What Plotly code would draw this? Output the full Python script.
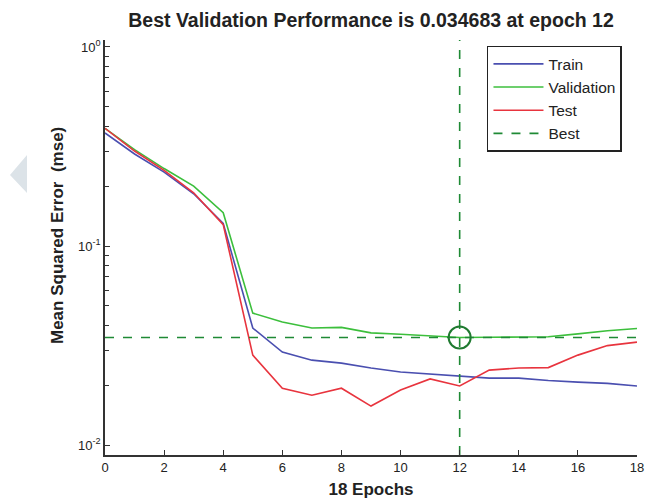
import plotly.graph_objects as go

epochs = list(range(19))
train = [0.37, 0.29, 0.235, 0.183, 0.13, 0.0387, 0.0293, 0.0267, 0.0258, 0.0244,
         0.0233, 0.0227, 0.0221, 0.0217, 0.0217, 0.0211, 0.0207, 0.0204, 0.0198]
validation = [0.39, 0.305, 0.245, 0.20, 0.147, 0.046, 0.0415, 0.0387, 0.039, 0.0366,
              0.0360, 0.0352, 0.034683, 0.0348, 0.0348, 0.035, 0.0362, 0.0375, 0.0385]
test = [0.39, 0.30, 0.24, 0.185, 0.128, 0.0283, 0.0193, 0.0178, 0.0193, 0.0157,
        0.0189, 0.0215, 0.0198, 0.0238, 0.0244, 0.0245, 0.0283, 0.0316, 0.0329]
best_epoch = 12
best_value = 0.034683
x_ticks = list(range(0, 19, 2))
y_ticks = [0.01, 0.1, 1]
y_tick_text = ["10<sup>-2</sup>", "10<sup>-1</sup>", "10<sup>0</sup>"]
y_minor = [m * 10 ** e for e in (-2, -1) for m in range(2, 10)]

font = "Liberation Sans, Arial, Helvetica, sans-serif"
y_lo, y_hi = -2.05, 0.035

fig = go.Figure()
fig.add_trace(go.Scatter(x=epochs, y=train, mode="lines", name="Train",
                         line=dict(color="#4a4fb0", width=1.6)))
fig.add_trace(go.Scatter(x=epochs, y=validation, mode="lines", name="Validation",
                         line=dict(color="#3cbf3c", width=1.6)))
fig.add_trace(go.Scatter(x=epochs, y=test, mode="lines", name="Test",
                         line=dict(color="#e8343e", width=1.6)))
fig.add_trace(go.Scatter(x=[0, 18], y=[best_value, best_value], mode="lines", name="Best",
                         line=dict(color="#1f8a35", width=1.6, dash="dash")))
fig.add_trace(go.Scatter(x=[best_epoch, best_epoch], y=[10 ** y_lo, 10 ** y_hi], mode="lines",
                         showlegend=False, line=dict(color="#1f8a35", width=1.6, dash="dash")))
fig.add_trace(go.Scatter(x=[best_epoch], y=[best_value], mode="markers", showlegend=False,
                         marker=dict(symbol="circle-open", size=22, color="#1f7a30",
                                     line=dict(width=2, color="#1f7a30"))))

# decorative light triangle at the left page edge
fig.add_shape(type="path", xref="paper", yref="paper",
              path="M -0.1786 0.6747 L -0.1466 0.7229 L -0.1466 0.6313 Z",
              fillcolor="#dce3e8", line=dict(width=0), layer="below")

# y-axis title as annotation (slightly above the plot centre, as in the reference)
fig.add_annotation(text="<b>Mean Squared Error  (mse)</b>", xref="paper", yref="paper",
                   x=-0.0902, y=0.5277, textangle=-90, showarrow=False,
                   xanchor="center", yanchor="middle", font=dict(size=17, color="#222"))

fig.update_layout(
    width=645, height=502,
    margin=dict(l=105, r=8, t=40, b=47, autoexpand=False),
    paper_bgcolor="white", plot_bgcolor="white",
    font=dict(family=font, size=13, color="#222"),
    title=dict(text="<b>Best Validation Performance is 0.034683 at epoch 12</b>",
               x=0.5, xref="paper", y=0.96, yanchor="middle",
               font=dict(size=19.5, color="#222")),
    xaxis=dict(range=[0, 18], tickvals=x_ticks, ticks="inside", ticklen=5,
               showline=True, linecolor="#333", linewidth=1.5, showgrid=False,
               zeroline=False, tickcolor="#333", automargin=False,
               title=dict(text="<b>18 Epochs</b>", font=dict(size=17), standoff=9)),
    yaxis=dict(type="log", range=[y_lo, y_hi], tickvals=y_ticks, ticktext=y_tick_text,
               ticks="inside", ticklen=5, tickcolor="#333", automargin=False,
               minor=dict(tickmode="array", tickvals=y_minor, ticks="inside", ticklen=4,
                          tickcolor="#333", showgrid=False),
               showline=True, linecolor="#333", linewidth=1.5, showgrid=False,
               zeroline=False),
    legend=dict(x=0.718, y=0.986, xanchor="left", yanchor="top",
                bordercolor="#222", borderwidth=1.5, bgcolor="white",
                font=dict(size=15.5), tracegroupgap=0, itemwidth=50),
    showlegend=True,
)

fig.write_html("out.html", config={"displayModeBar": False},
               post_script="document.body.style.margin='0';")
